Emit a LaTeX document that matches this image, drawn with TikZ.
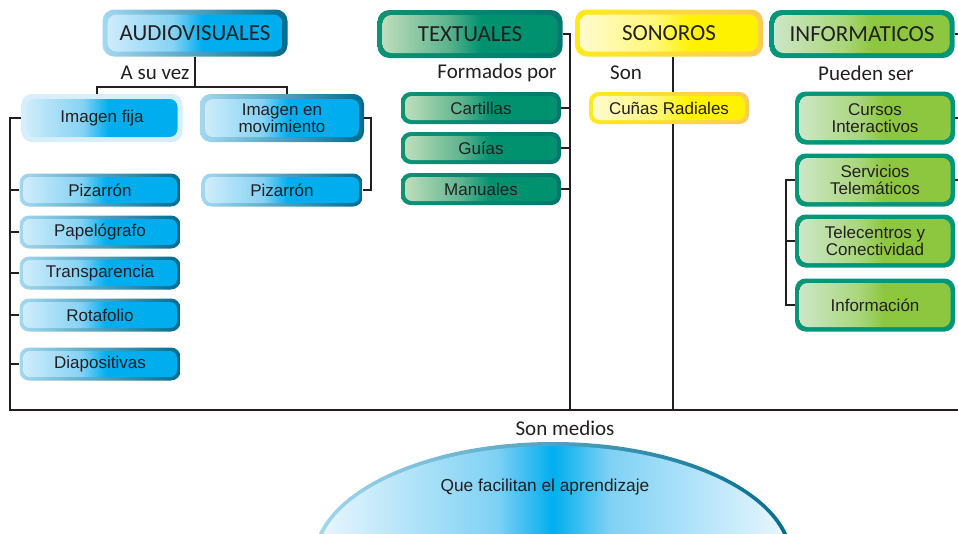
\documentclass[tikz,border=0pt]{standalone}
\usepackage{fontspec}
\setmainfont{Liberation Sans}
\newfontfamily\headfont{Carlito}
\definecolor{inkline}{HTML}{231F20}
\definecolor{avlight}{HTML}{D4EEFB}
\definecolor{avmid}{HTML}{86D2F4}
\definecolor{avcyan}{HTML}{00AEEF}
\definecolor{avrim}{HTML}{A3D8F0}
\definecolor{avdark}{HTML}{006C8E}
\definecolor{avpale}{HTML}{D8EFFB}
\definecolor{txlight}{HTML}{C4E1BF}
\definecolor{txmid}{HTML}{5DB38E}
\definecolor{txgreen}{HTML}{00926F}
\definecolor{txrim}{HTML}{0E9274}
\definecolor{txdark}{HTML}{00786E}
\definecolor{solight}{HTML}{FFFBD4}
\definecolor{somid}{HTML}{FFF77A}
\definecolor{soyellow}{HTML}{FFF200}
\definecolor{sorim}{HTML}{FFEA1C}
\definecolor{sodark}{HTML}{FDCB55}
\definecolor{inlight}{HTML}{D0E8CC}
\definecolor{inmid}{HTML}{A9D67C}
\definecolor{ingreen}{HTML}{8DC63F}
\definecolor{inrim}{HTML}{00967A}
\definecolor{domeedge}{HTML}{EAF7FD}
\definecolor{domemid}{HTML}{7FD1F4}
\pgfdeclarehorizontalshading{avrimshade}{100bp}{color(0bp)=(avrim); color(25bp)=(avrim); color(75bp)=(avdark); color(100bp)=(avdark)}
\pgfdeclarehorizontalshading{avpaleshade}{100bp}{color(0bp)=(avpale); color(100bp)=(avpale)}
\pgfdeclarehorizontalshading{avfillshade}{100bp}{color(0bp)=(avlight); color(25bp)=(avlight); color(44bp)=(avmid); color(52bp)=(avcyan); color(100bp)=(avcyan)}
\pgfdeclarehorizontalshading{txrimshade}{100bp}{color(0bp)=(txrim); color(25bp)=(txrim); color(75bp)=(txdark); color(100bp)=(txdark)}
\pgfdeclarehorizontalshading{txfillshade}{100bp}{color(0bp)=(txlight); color(25bp)=(txlight); color(44bp)=(txmid); color(53bp)=(txgreen); color(100bp)=(txgreen)}
\pgfdeclarehorizontalshading{sorimshade}{100bp}{color(0bp)=(sorim); color(25bp)=(sorim); color(75bp)=(sodark); color(100bp)=(sodark)}
\pgfdeclarehorizontalshading{sofillshade}{100bp}{color(0bp)=(solight); color(25bp)=(solight); color(46bp)=(somid); color(56bp)=(soyellow); color(100bp)=(soyellow)}
\pgfdeclarehorizontalshading{inrimshade}{100bp}{color(0bp)=(inrim); color(100bp)=(inrim)}
\pgfdeclarehorizontalshading{infillshade}{100bp}{color(0bp)=(inlight); color(25bp)=(inlight); color(45bp)=(inmid); color(53bp)=(ingreen); color(100bp)=(ingreen)}
\pgfdeclarehorizontalshading{domerimshade}{100bp}{color(0bp)=(avrim); color(25bp)=(avrim); color(75bp)=(avdark); color(100bp)=(avdark)}
\pgfdeclarehorizontalshading{domefillshade}{100bp}{color(0bp)=(domeedge); color(25bp)=(domeedge); color(44bp)=(domemid); color(50bp)=(avcyan); color(56bp)=(domemid); color(75bp)=(domeedge); color(100bp)=(domeedge)}
\tikzset{
  mbox/.style n args={4}{shade, shading=#1, rounded corners=#4+2.5pt, inner sep=0pt, align=center, text=inkline,
    path picture={\shade[shading=#2, rounded corners=#4] ([shift={(#3,-#3)}]path picture bounding box.north west) rectangle ([shift={(-#3,#3)}]path picture bounding box.south east);}},
  boxfont/.style={font=\fontsize{17}{17.5}\selectfont},
  headbox/.style={minimum width=185pt, minimum height=47pt, font=\headfont\fontsize{23}{23}\selectfont},
  avbox/.style={mbox={avrimshade}{avfillshade}{3.5pt}{7pt}, boxfont, minimum width=161pt, minimum height=33pt},
  txbox/.style={mbox={txrimshade}{txfillshade}{4pt}{7pt}, boxfont, minimum width=160pt, minimum height=32pt},
  sobox/.style={mbox={sorimshade}{sofillshade}{4pt}{7pt}, boxfont, minimum width=160pt, minimum height=32pt},
  inbox/.style={mbox={inrimshade}{infillshade}{4.5pt}{8pt}, boxfont, minimum width=160pt, minimum height=53pt},
  capt/.style={inner sep=0pt, text=inkline, font=\headfont\fontsize{21}{21}\selectfont},
  link/.style={line width=2pt, draw=inkline}
}
\begin{document}
\begin{tikzpicture}[x=1pt, y=-1pt]
\useasboundingbox (0,0) rectangle (958,533);
\begin{scope}
\clip (0,0) rectangle (958,533);
\shade[shading=domerimshade] (553,560) ellipse [x radius=240, y radius=118];
\shade[shading=domefillshade] (553,560) ellipse [x radius=236, y radius=114];
\end{scope}
\node[inner sep=0pt, text=inkline, font=\fontsize{17.3}{17.3}\selectfont] (dome) at (545,487) {Que facilitan el aprendizaje};
\node[capt] (medios) at (565,428) {Son medios};
\node[mbox={avrimshade}{avfillshade}{5pt}{9pt}, headbox] (audio) at (195,33) {AUDIOVISUALES};
\node[mbox={txrimshade}{txfillshade}{5pt}{9pt}, headbox, minimum height=48pt] (textual) at (470,34) {TEXTUALES};
\node[mbox={sorimshade}{sofillshade}{5pt}{9pt}, headbox, minimum width=188pt] (sonoros) at (669,33) {SONOROS};
\node[mbox={inrimshade}{infillshade}{5pt}{9pt}, headbox, minimum height=48pt] (infor) at (862,34) {INFORMATICOS};
\node[capt] (asuvez) at (155,73) {A su vez};
\node[capt] (formados) at (497,73) {Formados por};
\node[capt] (son) at (626,73) {Son};
\node[capt] (pueden) at (866,73) {Pueden ser};
\node[avbox, mbox={avpaleshade}{avfillshade}{5pt}{8pt}, minimum height=48pt] (fija) at (102,118) {Imagen fija};
\node[avbox, mbox={avrimshade}{avfillshade}{5pt}{8pt}, minimum width=164pt, minimum height=48pt] (movi) at (282,118) {Imagen en\\movimiento};
\node[avbox] (pizb) at (282,190) {Pizarrón};
\node[avbox] (piza) at (100,190) {Pizarrón};
\node[avbox] (papel) at (100,232) {Papelógrafo};
\node[avbox] (transp) at (100,273) {Transparencia};
\node[avbox] (rota) at (100,315) {Rotafolio};
\node[avbox] (diapo) at (100,364) {Diapositivas};
\node[txbox] (cart) at (481,108) {Cartillas};
\node[txbox] (guias) at (481,148) {Guías};
\node[txbox] (manual) at (481,189) {Manuales};
\node[sobox] (cunas) at (669,108) {Cuñas Radiales};
\node[inbox] (cursos) at (875,118) {Cursos\\Interactivos};
\node[inbox] (servi) at (875,180) {Servicios\\Telemáticos};
\node[inbox] (tele) at (875,241) {Telecentros y\\Conectividad};
\node[inbox] (infoa) at (875,305) {Información};
\coordinate (avbase) at (10,410);
\coordinate (txbase) at (570,410);
\coordinate (sobase) at (673,410);
\coordinate (rightbase) at (958,410);
\coordinate (avsplit) at (195,87);
\draw[link] ([xshift=-5]fija.north) |- (avsplit) -| ([xshift=5]movi.north);
\draw[link] (audio.south) -- (avsplit);
\draw[link] (movi.east) -- ++(7,0) |- (pizb.east);
\draw[link] (fija.west) -| (avbase) -- (rightbase);
\foreach \n in {piza,papel,transp,rota,diapo}
  \draw[link] (\n.west) -- (\n.west -| avbase);
\draw[link] (textual.east) -| (txbase);
\foreach \n in {cart,guias,manual}
  \draw[link] (\n.east) -- (\n.east -| txbase);
\draw[link] (sonoros.south -| sobase) -- (cunas.north -| sobase);
\draw[link] (cunas.south -| sobase) -- (sobase);
\foreach \n in {infor,cursos,servi}
  \draw[link] (\n.east) -- (\n.east -| rightbase);
\draw[link] (servi.west) -- ++(-9,0) |- (infoa.west);
\draw[link] (tele.west) -- ++(-9,0);
\end{tikzpicture}
\end{document}
